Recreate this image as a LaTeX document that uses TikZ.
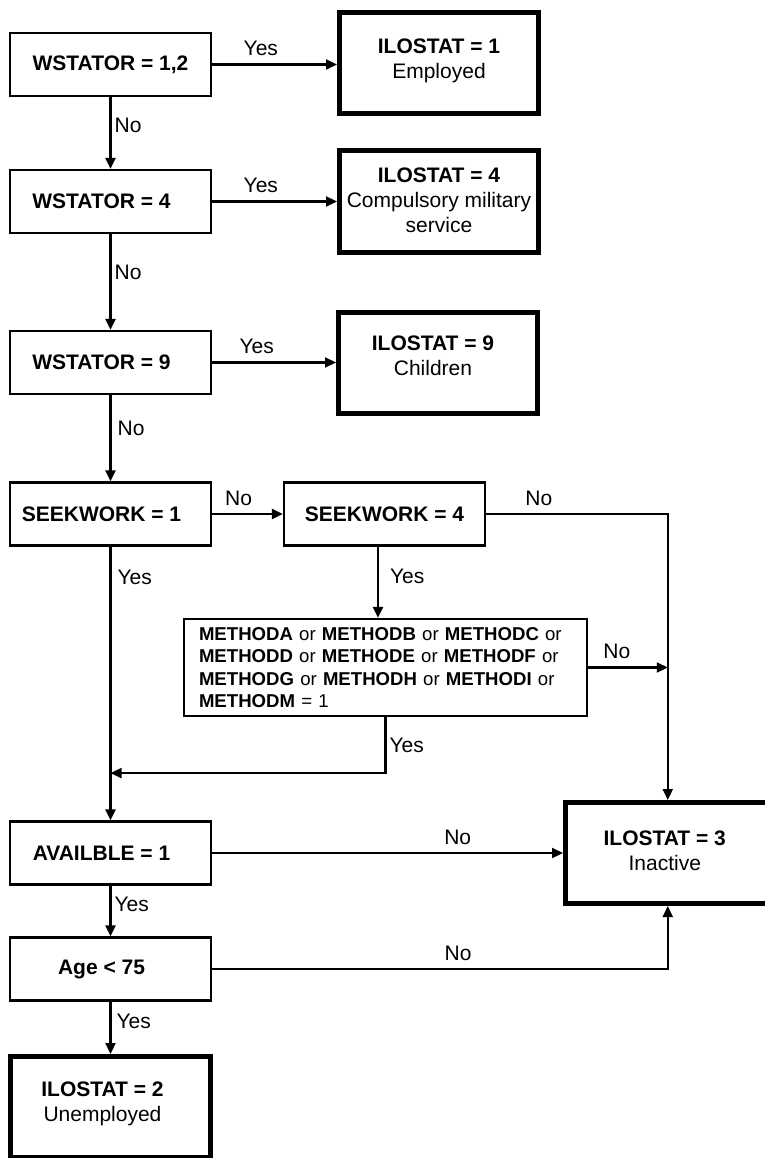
\documentclass[tikz,border=0pt]{standalone}
\usepackage{fontspec}
\setmainfont{Liberation Sans}
\usetikzlibrary{arrows.meta}
\begin{document}
\begin{tikzpicture}[x=1pt,y=-1pt,
  font=\fontsize{21}{25}\selectfont,
  boxtext/.style={inner sep=0pt, align=center, font=\fontsize{21}{25}\selectfont},
  test/.style={draw, line width=2.2pt, minimum width=201pt, minimum height=63pt,
    inner sep=0pt,
    label={[boxtext, font=\fontsize{21}{25}\selectfont\bfseries, xshift=-9pt]center:{#1}}},
  outcome/.style={draw, line width=5pt, minimum width=199pt, minimum height=101pt,
    inner sep=0pt},
  arr/.style={line width=2.2pt, -{Triangle[length=11pt,width=10pt]}},
  lbl/.style={inner sep=3pt, text height=15pt, text depth=4.5pt,
    font=\fontsize{21}{25}\selectfont}
]
\useasboundingbox (0,0) rectangle (764,1158);

% decision boxes (left column)
\node[draw, line width=2.2pt, minimum width=201pt, minimum height=63pt, inner sep=0pt,
  font=\fontsize{21}{25}\selectfont\bfseries] (w12) at (110.5,64.5) {WSTATOR = 1,2};
\node[test={WSTATOR = 4}]  (w4)  at (110.5,201.5) {};
\node[test={WSTATOR = 9}]  (w9)  at (110.5,362.5) {};
\node[test={SEEKWORK = 1}] (s1)  at (110.5,514)   {};
\node[test={AVAILBLE = 1}] (av)  at (110.5,853)   {};
\node[test={Age < 75}]     (age) at (110.5,969)   {};

% second SEEKWORK test and search methods
\node[draw, line width=2.2pt, minimum width=201pt, minimum height=63pt, inner sep=0pt,
  font=\fontsize{21}{25}\selectfont\bfseries] (s4) at (384.5,514) {SEEKWORK = 4};
\node[draw, line width=2.2pt, minimum width=403pt, minimum height=97pt,
  text width=373pt, inner xsep=15pt, inner ysep=0pt, align=left,
  font=\fontsize{18.6}{22.3}\selectfont] (m) at (385.5,667.5)
  {\textbf{METHODA} or \textbf{METHODB} or \textbf{METHODC} or\\
   \textbf{METHODD} or \textbf{METHODE} or \textbf{METHODF} or\\
   \textbf{METHODG} or \textbf{METHODH} or \textbf{METHODI} or\\
   \textbf{METHODM} = 1};

% outcome boxes
\node[outcome, label={[boxtext, yshift=2pt]center:{\textbf{ILOSTAT = 1}\\Employed}}]
  (i1) at (439,63) {};
\node[outcome, label={[boxtext, yshift=1pt]center:{\textbf{ILOSTAT = 4}\\Compulsory military\\service}}]
  (i4) at (439,201.5) {};
\node[outcome, label={[boxtext, xshift=-5pt, yshift=7pt]center:{\textbf{ILOSTAT = 9}\\Children}}]
  (i9) at (438,362.5) {};
\node[outcome, minimum width=204.5pt,
  label={[boxtext, xshift=-3pt, yshift=2pt]center:{\textbf{ILOSTAT = 3}\\Inactive}}]
  (i3) at (667.75,853) {};
\node[outcome, minimum width=200pt,
  label={[boxtext, xshift=-8pt, yshift=3pt]center:{\textbf{ILOSTAT = 2}\\Unemployed}}]
  (i2) at (110.5,1107) {};

% connectors
\draw[arr] (w12.east) -- node[lbl,above,pos=.39] {Yes} (w12.east -| i1.west);
\draw[arr] (w12) -- node[lbl,right,pos=.42] {No} (w4);
\draw[arr] (w4.east) -- node[lbl,above,pos=.39] {Yes} (w4.east -| i4.west);
\draw[arr] (w4) -- node[lbl,right,pos=.42] {No} (w9);
\draw[arr] (w9.east) -- node[lbl,above,pos=.36] {Yes} (w9.east -| i9.west);
\draw[arr] (w9) -- node[lbl,right,pos=.41,xshift=3pt] {No} (s1);
\draw[arr] (s1) -- node[lbl,above,pos=.375] {No} (s4);
\draw[arr] (s4.east) -- node[lbl,above,pos=.29] {No} (s4.east -| i3.north) -- (i3.north);
\draw[arr] ([xshift=-6.5pt]s4.south) -- node[lbl,right,pos=.44,xshift=8pt] {Yes}
  ([xshift=-6.5pt]s4.south |- m.north);
\draw[arr] (m.east) -- node[lbl,above,pos=.36] {No} (m.east -| i3.north);
\draw[arr] (m.south) -- node[lbl,right,pos=.54] {Yes} ++(0,56) coordinate (mj)
  -- (mj -| s1.south);
\draw[arr] (s1) -- node[lbl,right,pos=.12,xshift=3pt] {Yes} (av);
\draw[arr] (av.east) -- node[lbl,above,pos=.70] {No} (av.east -| i3.west);
\draw[arr] (av) -- node[lbl,right,pos=.4] {Yes} (age);
\draw[arr] (age.east) -- node[lbl,above,pos=.54] {No} (age.east -| i3.south) -- (i3.south);
\draw[arr] (age) -- node[lbl,right,pos=.41,xshift=2pt] {Yes} (i2);
\end{tikzpicture}
\end{document}
